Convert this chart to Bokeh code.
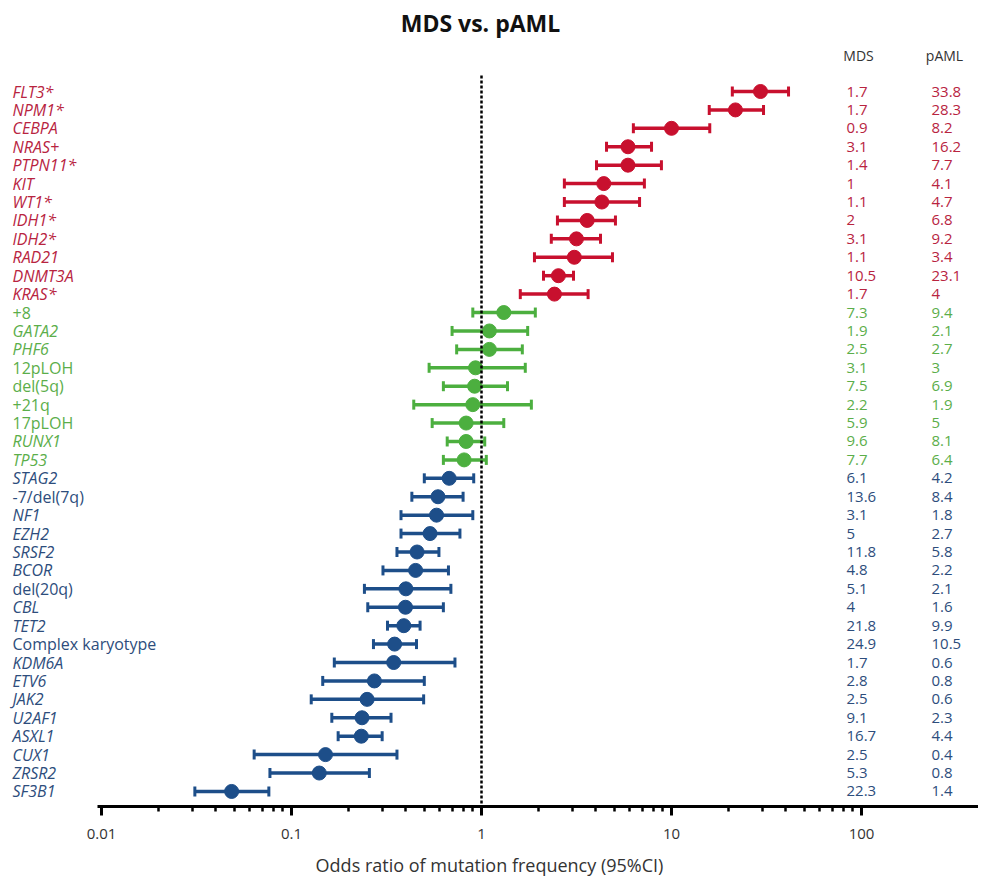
import numpy as np
from bokeh.plotting import figure
from bokeh.models import Range1d, LinearScale, FixedTicker, ColumnDataSource
from bokeh.embed import file_html
from bokeh.resources import INLINE
from bokeh.core.properties import value

# ---------------- data ----------------
labels = ["FLT3*", "NPM1*", "CEBPA", "NRAS+", "PTPN11*", "KIT", "WT1*", "IDH1*", "IDH2*",
          "RAD21", "DNMT3A", "KRAS*",
          "+8", "GATA2", "PHF6", "12pLOH", "del(5q)", "+21q", "17pLOH", "RUNX1", "TP53",
          "STAG2", "-7/del(7q)", "NF1", "EZH2", "SRSF2", "BCOR", "del(20q)", "CBL", "TET2",
          "Complex karyotype", "KDM6A", "ETV6", "JAK2", "U2AF1", "ASXL1", "CUX1", "ZRSR2", "SF3B1"]
groups = ["pAML"] * 12 + ["neutral"] * 9 + ["MDS"] * 18
odds_ratio = [29.4, 21.7, 10.0, 5.9, 5.9, 4.4, 4.3, 3.6, 3.16, 3.08, 2.54, 2.42,
              1.31, 1.1, 1.1, 0.93, 0.92, 0.90, 0.83, 0.83, 0.81,
              0.676, 0.59, 0.58, 0.536, 0.458, 0.45, 0.40, 0.398, 0.39, 0.349, 0.345,
              0.273, 0.25, 0.235, 0.233, 0.151, 0.14, 0.0484]
ci_low = [20.9, 15.8, 6.3, 4.55, 4.03, 2.73, 2.73, 2.51, 2.33, 1.9, 2.12, 1.6,
          0.90, 0.70, 0.74, 0.53, 0.63, 0.44, 0.55, 0.66, 0.63,
          0.50, 0.43, 0.377, 0.377, 0.359, 0.303, 0.242, 0.252, 0.32, 0.27, 0.168,
          0.146, 0.127, 0.163, 0.176, 0.0636, 0.077, 0.031]
ci_high = [41.3, 30.5, 15.9, 7.85, 8.85, 7.2, 6.79, 5.07, 4.23, 4.89, 3.05, 3.64,
           1.92, 1.75, 1.64, 1.7, 1.37, 1.83, 1.31, 1.04, 1.06,
           0.91, 0.80, 0.90, 0.77, 0.597, 0.67, 0.69, 0.63, 0.475, 0.455, 0.725,
           0.50, 0.496, 0.334, 0.30, 0.359, 0.257, 0.076]
mds_freq = [1.7, 1.7, 0.9, 3.1, 1.4, 1, 1.1, 2, 3.1, 1.1, 10.5, 1.7,
            7.3, 1.9, 2.5, 3.1, 7.5, 2.2, 5.9, 9.6, 7.7,
            6.1, 13.6, 3.1, 5, 11.8, 4.8, 5.1, 4, 21.8, 24.9, 1.7, 2.8, 2.5, 9.1, 16.7, 2.5, 5.3, 22.3]
paml_freq = [33.8, 28.3, 8.2, 16.2, 7.7, 4.1, 4.7, 6.8, 9.2, 3.4, 23.1, 4,
             9.4, 2.1, 2.7, 3, 6.9, 1.9, 5, 8.1, 6.4,
             4.2, 8.4, 1.8, 2.7, 5.8, 2.2, 2.1, 1.6, 9.9, 10.5, 0.6, 0.8, 0.6, 2.3, 4.4, 0.4, 0.8, 1.4]
x_ticks = [0.01, 0.1, 1, 10, 100]
x_tick_labels = ["0.01", "0.1", "1", "10", "100"]
title_text = "MDS vs. pAML"
col_headers = ["MDS", "pAML"]
x_title = "Odds ratio of mutation frequency (95%CI)"

# ---------------- styles ----------------
mark_colors = {"pAML": "#C8102E", "neutral": "#4CAF3F", "MDS": "#1D4E89"}
text_colors = {"pAML": "#B8243F", "neutral": "#5BAE4A", "MDS": "#2D4D7C"}
FONT = "Open Sans"

def is_cytogenetic(s):
    return s[0] in "+-0123456789" or s.startswith("del") or s.startswith("Complex")

n = len(labels)
src = ColumnDataSource(dict(
    row=list(range(n)),
    label=labels,
    odds=odds_ratio,
    lo=ci_low,
    hi=ci_high,
    mds=[f"{v:g}" for v in mds_freq],
    paml=[f"{v:g}" for v in paml_freq],
    mcolor=[mark_colors[g] for g in groups],
    tcolor=[text_colors[g] for g in groups],
    fstyle=["normal" if is_cytogenetic(s) else "italic" for s in labels],
))

# ---------------- layout (pixels in page coordinates) ----------------
PX_LEFT, PX_RIGHT = 0, 978          # frame horizontal extent
ONE_PX = 481                        # x pixel of odds ratio = 1
DECADE = 190                        # pixels per decade
TOP, BOTTOM = 0, 806                # frame vertical extent
ROW0, ROW_H = 91, 18.42             # first row centre and row spacing
REF_TOP = 75                        # top of the dotted reference line

def row_at(ypx):
    return (ypx - ROW0) / ROW_H

x_start = 10 ** ((PX_LEFT - ONE_PX) / DECADE)
x_end = 10 ** ((PX_RIGHT - ONE_PX) / DECADE)

p = figure(frame_width=PX_RIGHT - PX_LEFT, frame_height=BOTTOM - TOP,
           x_axis_type="log", y_axis_location=None,
           x_range=Range1d(x_start, x_end), y_range=Range1d(row_at(BOTTOM), row_at(TOP)),
           min_border_left=0, min_border_right=0, min_border_top=0,
           min_border_bottom=73, output_backend="svg", toolbar_location=None)
p.extra_x_ranges = {"px": Range1d(PX_LEFT, PX_RIGHT)}
p.extra_x_scales = {"px": LinearScale()}
p.outline_line_color = None
p.xgrid.visible = False
p.ygrid.visible = False
p.background_fill_color = "white"
p.border_fill_color = "white"

# error bars, caps, points
p.segment(x0="lo", y0="row", x1="hi", y1="row", source=src, line_color="mcolor", line_width=3.5)
for side in ("lo", "hi"):
    p.scatter(x=side, y="row", source=src, marker="dash", angle=np.pi / 2, size=10,
              line_color="mcolor", line_width=3)
p.scatter(x="odds", y="row", source=src, marker="circle", size=14,
          fill_color="mcolor", line_color="mcolor")

# dotted reference line at OR = 1 (drawn over the points)
p.segment(x0=1, y0=row_at(REF_TOP), x1=1, y1=row_at(BOTTOM), line_color="black",
          line_width=2.5, line_dash="3 2")

# row labels and frequency columns
p.text(x=12, y="row", text="label", source=src, x_range_name="px",
       text_font=value(FONT), text_font_size="16px", text_font_style="fstyle",
       text_color="tcolor", text_baseline="middle", text_align="left")
p.text(x=846, y="row", text="mds", source=src, x_range_name="px",
       text_font=value(FONT), text_font_size="15px",
       text_color="tcolor", text_baseline="middle", text_align="left")
p.text(x=931, y="row", text="paml", source=src, x_range_name="px",
       text_font=value(FONT), text_font_size="15px",
       text_color="tcolor", text_baseline="middle", text_align="left")

# headers and title
p.text(x=[858, 944], y=[row_at(55)] * 2, text=col_headers, x_range_name="px",
       text_font=value(FONT), text_font_size="14px", text_color="#333333",
       text_align="center", text_baseline="middle")
p.text(x=[480], y=[row_at(22)], text=[title_text], x_range_name="px",
       text_font=value(FONT), text_font_size="23px", text_font_style="bold",
       text_color="#111111", text_align="center", text_baseline="middle")

# x axis
minor = [m * 10.0 ** k for k in range(-2, 2) for m in range(2, 10)]
ax = p.xaxis[0]
ax.ticker = FixedTicker(ticks=x_ticks, minor_ticks=minor)
ax.major_label_overrides = dict(zip(x_ticks, x_tick_labels))
ax.bounds = (10 ** -2.02, x_end)
ax.axis_line_width = 3
ax.axis_line_color = "black"
ax.major_tick_line_width = 3
ax.major_tick_out = 9
ax.major_tick_in = 0
ax.minor_tick_line_width = 2.5
ax.minor_tick_out = 5
ax.minor_tick_in = 0
ax.major_label_text_font = FONT
ax.major_label_text_font_size = "15px"
ax.major_label_text_color = "#333333"
ax.major_label_standoff = 13
ax.axis_label = x_title
ax.axis_label_text_font = FONT
ax.axis_label_text_font_size = "18px"
ax.axis_label_text_font_style = "normal"
ax.axis_label_text_color = "#333333"
ax.axis_label_standoff = 11

open("out.html", "w").write(file_html(p, INLINE))
